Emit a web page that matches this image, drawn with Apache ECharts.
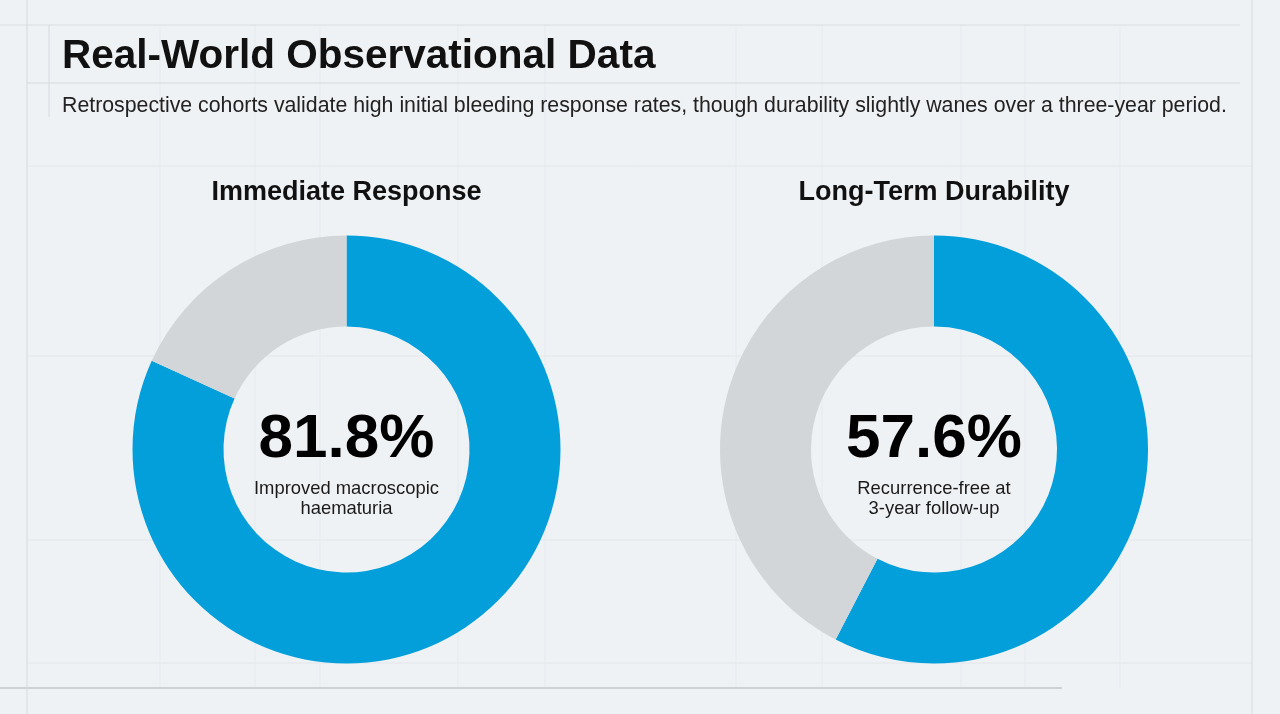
<!DOCTYPE html>
<html>
<head>
<meta charset="utf-8">
<style>
  html, body { margin: 0; padding: 0; background: #eff2f5; }
  #chart { width: 1280px; height: 714px; }
</style>
<script src="https://cdn.jsdelivr.net/npm/echarts@6/dist/echarts.min.js"></script>
</head>
<body>
<div id="chart"></div>
<script>
// data
var panelTitles = ['Immediate Response', 'Long-Term Durability'];
var responseRates = [81.8, 57.6];
var rateCaptions = [
  ['Improved macroscopic', 'haematuria'],
  ['Recurrence-free at', '3-year follow-up']
];

var FONT = '"Liberation Sans", Arial, Helvetica, sans-serif';
var BLUE = '#029fdb';
var GREY = '#d3d6d9';

var myChart = echarts.init(document.getElementById('chart'));

// faint background grid, decoration only
var hLines = [166, 356, 540, 663];
var vLines = [160, 255, 320, 458, 545, 736, 822, 961, 1025, 1120];
var graphics = [];
hLines.forEach(function (y) {
  graphics.push({ type: 'line', silent: true, z: -10,
    shape: { x1: 27, y1: y, x2: 1252, y2: y },
    style: { stroke: '#e2e6ea', lineWidth: 1 } });
});
vLines.forEach(function (x) {
  graphics.push({ type: 'line', silent: true, z: -10,
    shape: { x1: x, y1: 25, x2: x, y2: 688 },
    style: { stroke: '#e5e9ed', lineWidth: 1 } });
});
// frame lines
graphics.push(
  { type: 'line', silent: true, z: -9, shape: { x1: 0, y1: 25, x2: 1240, y2: 25 }, style: { stroke: '#d8dce0', lineWidth: 1 } },
  { type: 'line', silent: true, z: -9, shape: { x1: 27, y1: 83, x2: 1240, y2: 83 }, style: { stroke: '#d5d9dd', lineWidth: 1 } },
  { type: 'line', silent: true, z: -9, shape: { x1: 0, y1: 688, x2: 1062, y2: 688 }, style: { stroke: '#cdd2d6', lineWidth: 2 } },
  { type: 'line', silent: true, z: -9, shape: { x1: 27, y1: 0, x2: 27, y2: 714 }, style: { stroke: '#d5d9dd', lineWidth: 1 } },
  { type: 'line', silent: true, z: -9, shape: { x1: 1252, y1: 0, x2: 1252, y2: 714 }, style: { stroke: '#d5d9dd', lineWidth: 1 } },
  { type: 'line', silent: true, z: -9, shape: { x1: 49, y1: 25, x2: 49, y2: 117 }, style: { stroke: '#d5d9dd', lineWidth: 1 } }
);

// headings
graphics.push(
  { type: 'text', x: 62, y: 57, style: { text: 'Real-World Observational Data', fill: '#111',
      font: 'bold 40.5px ' + FONT, textVerticalAlign: 'middle' } },
  { type: 'text', x: 62, y: 106, style: { text: 'Retrospective cohorts validate high initial bleeding response rates, though durability slightly wanes over a three-year period.',
      fill: '#222', font: '21.3px ' + FONT, textVerticalAlign: 'middle' } }
);

var centers = [[346.5, 449.5], [934, 449.5]];
var series = [];
responseRates.forEach(function (rate, i) {
  var cx = centers[i][0], cy = centers[i][1];
  graphics.push(
    { type: 'text', x: cx, y: 193, style: { text: panelTitles[i], fill: '#111',
        font: 'bold 27px ' + FONT, textAlign: 'center', textVerticalAlign: 'middle' } },
    { type: 'text', x: cx, y: 440, z: 10, style: { text: rate.toFixed(1) + '%', fill: '#000',
        font: 'bold 62px ' + FONT, textAlign: 'center', textVerticalAlign: 'middle' } },
    { type: 'text', x: cx, y: 489, z: 10, style: { text: rateCaptions[i][0], fill: '#1a1a1a',
        font: '18.4px ' + FONT, textAlign: 'center', textVerticalAlign: 'middle' } },
    { type: 'text', x: cx, y: 509, z: 10, style: { text: rateCaptions[i][1], fill: '#1a1a1a',
        font: '18.4px ' + FONT, textAlign: 'center', textVerticalAlign: 'middle' } }
  );
  series.push({
    name: panelTitles[i],
    type: 'pie',
    center: [cx, cy],
    radius: [123, 214],
    startAngle: 90,
    clockwise: true,
    silent: true,
    label: { show: false },
    labelLine: { show: false },
    itemStyle: { borderWidth: 0 },
    data: [
      { name: 'Responders', value: rate, itemStyle: { color: BLUE } },
      { name: 'Other', value: +(100 - rate).toFixed(1), itemStyle: { color: GREY } }
    ]
  });
});

var option = {
  backgroundColor: '#eff2f5',
  animation: false,
  graphic: graphics,
  series: series
};
myChart.setOption(option);
</script>
</body>
</html>
